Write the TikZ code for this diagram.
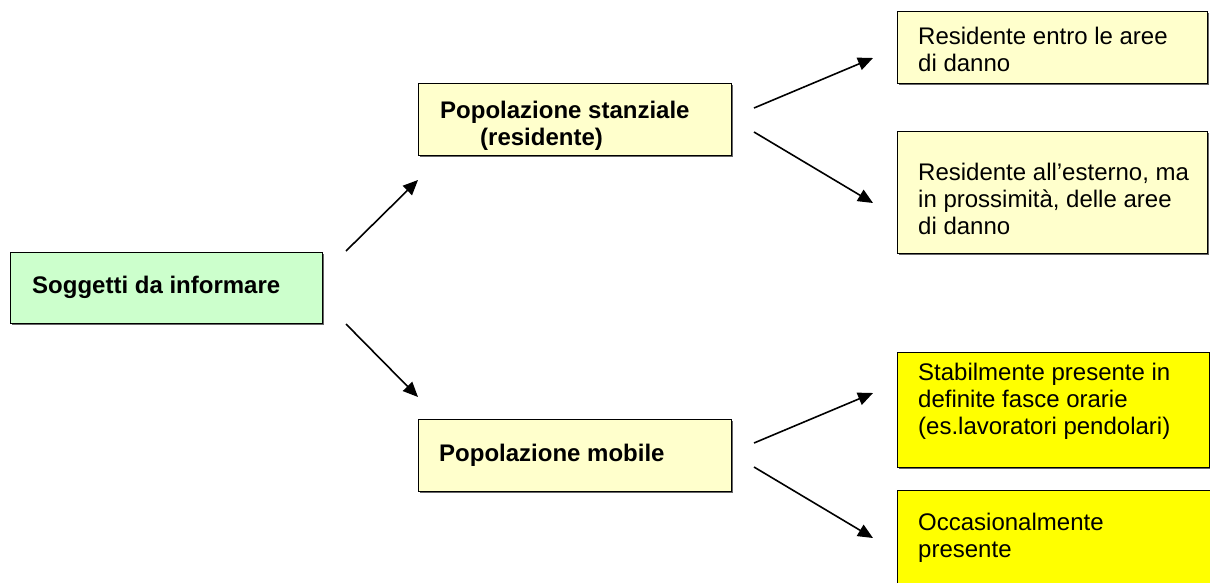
\documentclass[tikz,border=0pt]{standalone}
\usepackage{fontspec}
\setmainfont{Liberation Sans}
\usetikzlibrary{arrows.meta,shadows}
\definecolor{lgreen}{HTML}{CCFFCC}
\definecolor{lyellow}{HTML}{FFFFCC}
\definecolor{vyellow}{HTML}{FFFF00}
\begin{document}
\begin{tikzpicture}[x=1pt,y=-1pt,
  box/.style={draw=black, line width=1.3pt, inner sep=0pt, anchor=north west,
    drop shadow={shadow xshift=1.5pt, shadow yshift=-1.5pt, fill=black, opacity=0.6}},
  txt/.style={inner sep=0pt, anchor=north west, align=left, font=\fontsize{24}{27}\selectfont},
  btxt/.style={inner sep=0pt, anchor=north west, align=left, font=\fontsize{24}{27}\selectfont\bfseries},
  arr/.style={line width=1.6pt, -{Triangle[length=15pt,width=13pt]}}]
\useasboundingbox (0,0) rectangle (1210,582);
\clip (0,0) rectangle (1210,582);
% boxes
\node[box, fill=lgreen, minimum width=312pt, minimum height=71pt] (s) at (10,252) {};
\node[box, fill=lyellow, minimum width=313pt, minimum height=72pt] (p1) at (418,83) {};
\node[box, fill=lyellow, minimum width=313pt, minimum height=72pt] (p2) at (418,419) {};
\node[box, fill=lyellow, minimum width=310pt, minimum height=72pt] (r1) at (897,11) {};
\node[box, fill=lyellow, minimum width=310pt, minimum height=122pt] (r2) at (897,131) {};
\node[box, fill=vyellow, minimum width=312pt, minimum height=115pt] (m1) at (897,352) {};
\node[box, fill=vyellow, minimum width=320pt, minimum height=110pt] (m2) at (897,490) {};
% texts
\node[btxt] (st) at (32,274.1) {\strut Soggetti da informare};
\node[btxt] (p1t) at (440,99.1) {\strut Popolazione stanziale\\\hspace*{40pt}(residente)};
\node[btxt] (p2t) at (439,442.1) {\strut Popolazione mobile};
\node[txt] (r1t) at (918,25.1) {\strut Residente entro le aree\\di danno};
\node[txt] (r2t) at (918,161.1) {\strut Residente all’esterno, ma\\in prossimità, delle aree\\di danno};
\node[txt] (m1t) at (918,361.1) {\strut Stabilmente presente in\\definite fasce orarie\\(es.lavoratori pendolari)};
\node[txt] (m2t) at (918,511.1) {\strut Occasionalmente\\presente};
% arrow end points
\coordinate (a1s) at (346,251);
\coordinate (a1e) at (418,180);
\coordinate (a2s) at (346,324);
\coordinate (a2e) at (418,397);
\coordinate (a3s) at (754,108);
\coordinate (a3e) at (873,58);
\coordinate (a4s) at (754,132);
\coordinate (a4e) at (873,203);
\coordinate (a5s) at (754,443);
\coordinate (a5e) at (873,393);
\coordinate (a6s) at (754,467);
\coordinate (a6e) at (873,538);
\draw[arr] (a1s) -- (a1e);
\draw[arr] (a2s) -- (a2e);
\draw[arr] (a3s) -- (a3e);
\draw[arr] (a4s) -- (a4e);
\draw[arr] (a5s) -- (a5e);
\draw[arr] (a6s) -- (a6e);
\end{tikzpicture}
\end{document}
